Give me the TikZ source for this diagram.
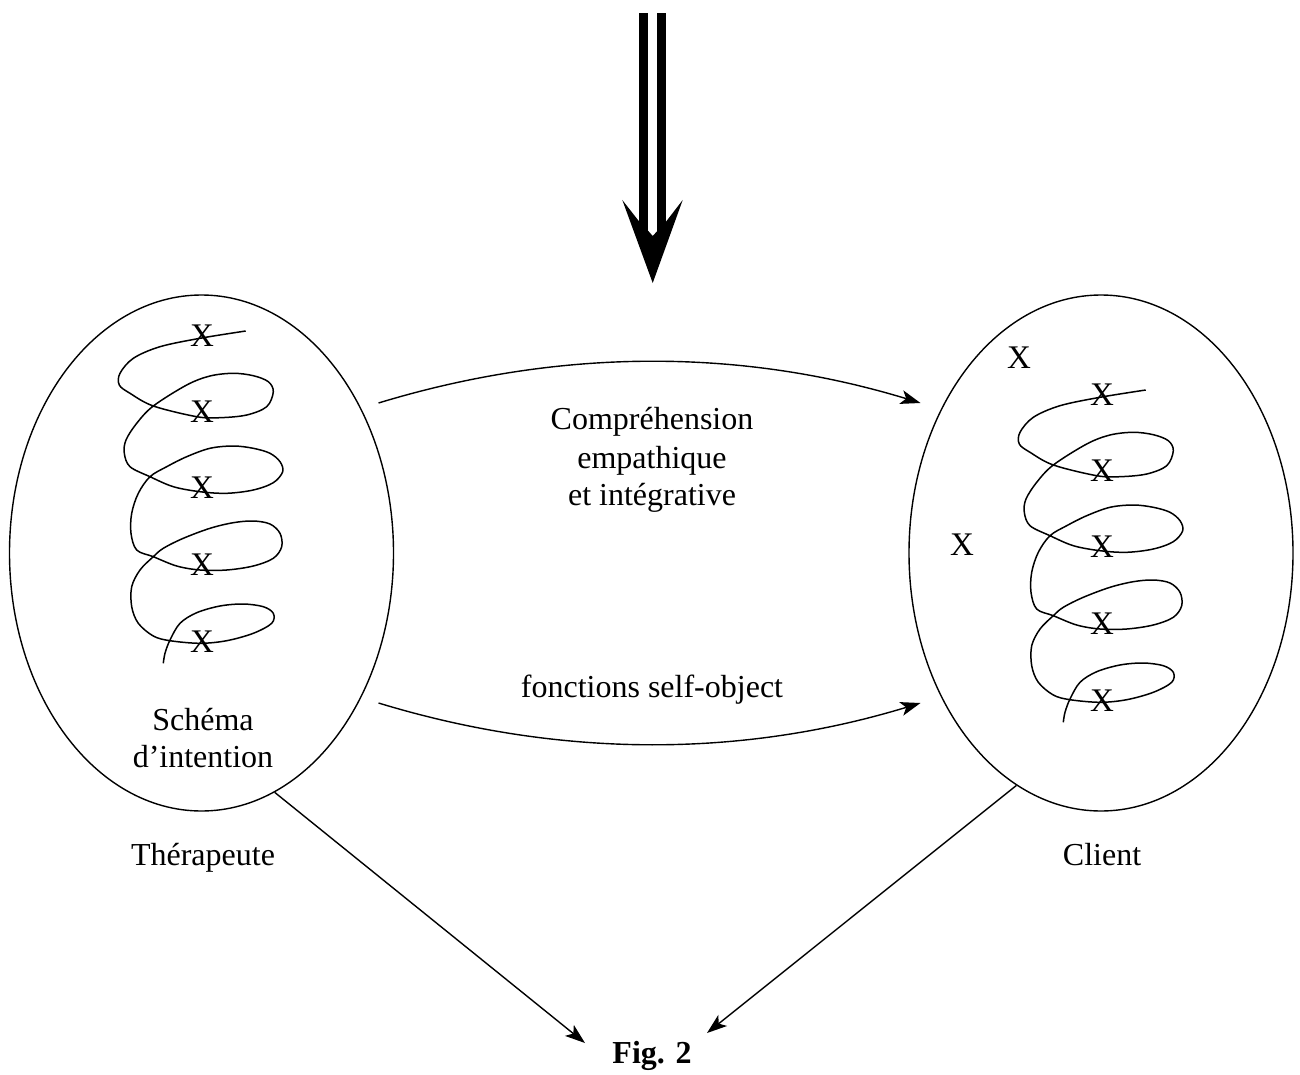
\documentclass[tikz,border=0pt]{standalone}
\usepackage{fontspec}
\setmainfont{Liberation Serif}
\usetikzlibrary{shapes.geometric, arrows.meta}

\tikzset{
  helix/.pic={
    \draw[thinline] plot[smooth, tension=0.55] coordinates {
      (245.7,331.0) (200.0,338.3) (160.0,346.7) (133.3,358.3) (120.0,373.3)
      (119.3,385.0) (130.0,393.3) (153.3,406.0) (196.7,416.7) (220.0,417.7)
      (246.7,415.0) (266.7,406.7) (273.3,391.7) (268.3,381.7) (253.3,375.7)
      (233.3,373.3) (210.0,376.0) (186.7,385.0) (153.3,406.0) (136.7,423.3)
      (126.0,440.0) (124.3,453.3) (130.0,466.7) (150.0,476.7) (173.3,486.7)
      (200.0,491.7) (226.7,493.3) (253.3,490.0) (273.3,482.7) (282.7,471.7)
      (280.0,461.7) (270.0,453.3) (253.3,448.3) (233.3,446.0) (210.0,448.3)
      (186.7,456.7) (166.7,466.7) (150.0,476.7) (138.3,493.3) (131.7,513.3)
      (131.0,533.3) (136.7,550.0) (153.3,556.7) (176.7,566.0) (200.0,570.0)
      (226.7,570.0) (253.3,566.0) (273.3,558.3) (281.7,546.7) (280.0,533.3)
      (270.0,524.0) (253.3,521.0) (233.3,522.7) (210.0,528.3) (183.3,538.3)
      (163.3,548.3) (153.3,556.7) (140.0,570.0) (131.7,586.7) (131.7,606.7)
      (138.3,623.3) (153.3,636.0) (170.0,640.7) (200.0,643.3) (226.7,640.7)
      (253.3,633.3) (271.7,623.3) (273.3,613.3) (263.3,606.7) (243.3,604.0)
      (220.0,606.0) (196.7,612.7) (180.0,623.3) (170.0,640.0) (165.0,653.3)
      (163.3,663.3)
    };
  }
}

\begin{document}
\begin{tikzpicture}[x=0.5pt, y=-0.5pt,
  thinline/.style={line width=0.75pt},
  conn/.style={line width=0.7pt, -{Stealth[length=10pt, width=7pt, inset=2.5pt]}},
  lbl/.style={font=\fontsize{16}{18}\selectfont, inner sep=0pt, anchor=base},
  xlbl/.style={font=\fontsize{16.5}{18}\selectfont, inner sep=0pt},
  oval/.style={draw, line width=0.7pt, ellipse, minimum width=192pt, minimum height=258pt, inner sep=0pt}
]
\useasboundingbox (0,0) rectangle (1300,1075);

% the two persons
\node[oval] (ther) at (201.5,553) {};
\node[oval] (client) at (1101,553) {};

% helices with their marks
\pic at (0,0) {helix};
\pic at (900,59) {helix};
\foreach \yy [count=\i] in {336,412,488,565,642} {
  \node[xlbl] (xl\i) at (202,\yy) {X};
  \node[xlbl] (xr\i) at (1102,\yy+59) {X};
}
\node[xlbl] (xa) at (1019,358) {X};
\node[xlbl] (xb) at (962,545) {X};

% heavy double arrow coming from above
\fill (639.3,13) rectangle (648.3,231);
\fill (657.3,13) rectangle (666,231);
\fill (622.3,200) -- (652.7,283) -- (682.7,200) -- (666,221.7) -- (666,231)
  -- (657.3,231) -- (652.7,236) -- (648.3,231) -- (639.3,231) -- (639.3,221.7) -- cycle;

% exchange arrows
\coordinate (u1) at (378.5,403);
\coordinate (u2) at (920.5,403);
\coordinate (l1) at (378.5,703);
\coordinate (l2) at (920.5,703);
\draw[conn] (u1) .. controls (559,348) and (740,348) .. (u2);
\draw[conn] (l1) .. controls (559,758) and (740,758) .. (l2);

% labels
\node[lbl] (t1) at (652,429) {Compréhension};
\node[lbl] (t2) at (652,468) {empathique};
\node[lbl] (t3) at (652,505) {et intégrative};
\node[lbl] (t4) at (652,697) {fonctions self-object};
\node[lbl] (s1) at (203,730) {Schéma};
\node[lbl] (s2) at (203,767) {d’intention};
\node[lbl] (tname) at (203,865) {Thérapeute};
\node[lbl] (cname) at (1102,865) {Client};
\node[lbl, font=\fontsize{16}{18}\selectfont\bfseries] (fig) at (652,1063) {Fig. 2};

% converging arrows
\coordinate (f1) at (585,1043);
\coordinate (f2) at (707,1033);
\draw[conn] (ther.-73.1) -- (f1);
\draw[conn] (client.-110.1) -- (f2);
\end{tikzpicture}
\end{document}
